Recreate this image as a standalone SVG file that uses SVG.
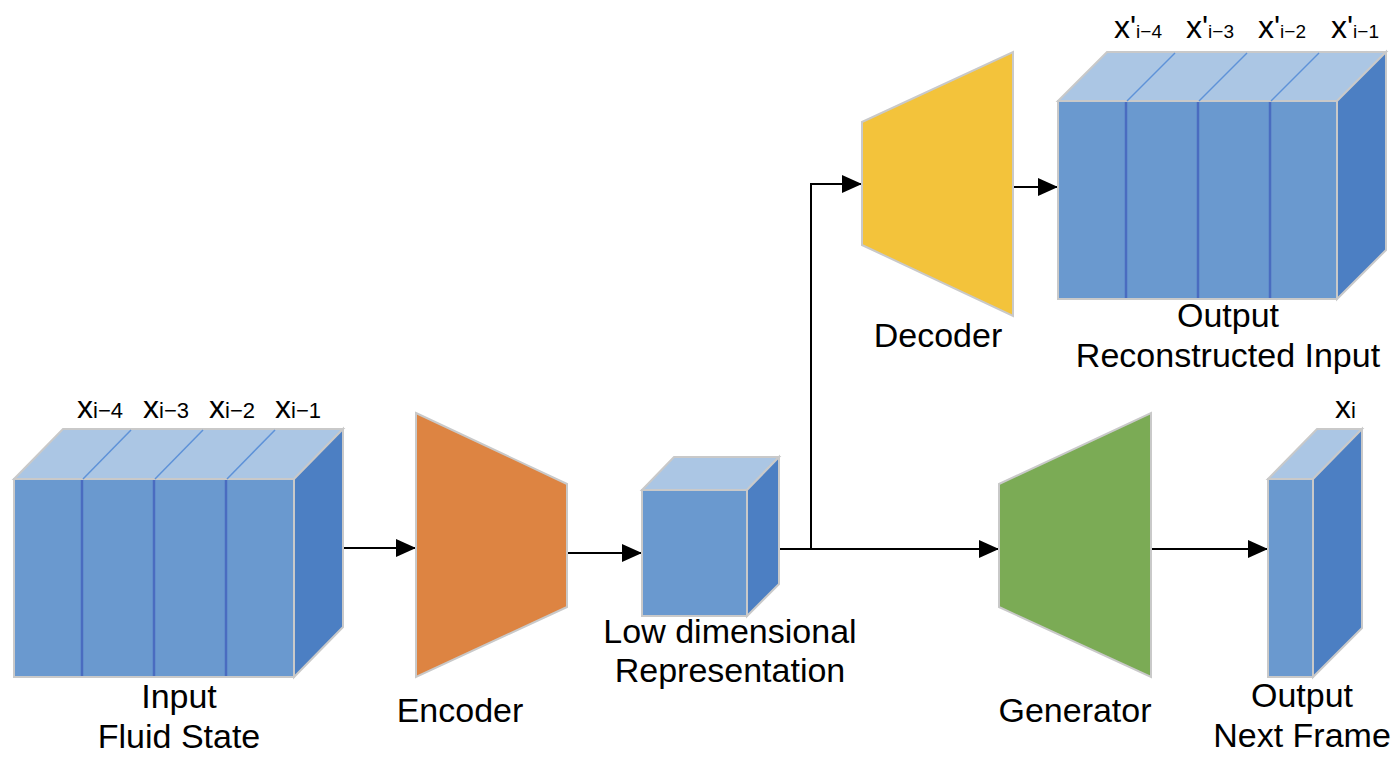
<svg xmlns="http://www.w3.org/2000/svg" width="1400" height="768" viewBox="0 0 1400 768">
<defs>
<style>
.front{fill:#6A99CF;stroke:#C9C9C9;stroke-width:2}
.top{fill:#ABC6E4;stroke:#C9C9C9;stroke-width:2}
.side{fill:#4C7FC3;stroke:#C9C9C9;stroke-width:2}
.div{stroke:#4A6CC0;stroke-width:2.5}
.tdiv{stroke:#5E92D8;stroke-width:1.5}
.trap{stroke:#C9C9C9;stroke-width:2}
.lbl{font-family:"Liberation Sans",Arial,sans-serif;font-size:34px;fill:#000;text-anchor:middle}
.xl{font-family:"Liberation Sans",Arial,sans-serif;font-size:32px;fill:#000}
.sub{font-size:22px}
.sub2{font-size:19px}
.conn{fill:none;stroke:#000;stroke-width:2}
</style>
<marker id="arr" viewBox="0 0 20 18" refX="20" refY="9" markerWidth="20" markerHeight="18" markerUnits="userSpaceOnUse" orient="auto">
<path d="M0,0 L20,9 L0,18 Z" fill="#000"/>
</marker>
</defs>
<rect width="1400" height="768" fill="#fff"/>

<g id="connectors">
<line class="conn" x1="343" y1="548" x2="416" y2="548" marker-end="url(#arr)"/>
<line class="conn" x1="567" y1="553" x2="642" y2="553" marker-end="url(#arr)"/>
<line class="conn" x1="779" y1="549" x2="999" y2="549" marker-end="url(#arr)"/>
<polyline class="conn" points="811,549 811,184 862,184" marker-end="url(#arr)"/>
<line class="conn" x1="1013" y1="187" x2="1058" y2="187" marker-end="url(#arr)"/>
<line class="conn" x1="1151" y1="549" x2="1268" y2="549" marker-end="url(#arr)"/>
</g>

<g id="input">
<polygon class="top" points="14,479 63,429 343,429 294,479"/>
<polygon class="side" points="294,479 343,429 343,627 294,677"/>
<rect class="front" x="14" y="479" width="280" height="198"/>
<line class="div" x1="82" y1="480" x2="82" y2="676"/>
<line class="div" x1="154" y1="480" x2="154" y2="676"/>
<line class="div" x1="226" y1="480" x2="226" y2="676"/>
<line class="tdiv" x1="83" y1="479" x2="131" y2="430"/>
<line class="tdiv" x1="155" y1="479" x2="203" y2="430"/>
<line class="tdiv" x1="227" y1="479" x2="275" y2="430"/>
<text class="xl" x="77" y="418">x<tspan class="sub">i−4</tspan></text>
<text class="xl" x="143" y="418">x<tspan class="sub">i−3</tspan></text>
<text class="xl" x="209" y="418">x<tspan class="sub">i−2</tspan></text>
<text class="xl" x="275" y="418">x<tspan class="sub">i−1</tspan></text>
<text class="lbl" x="179" y="708">Input</text>
<text class="lbl" x="179" y="748">Fluid State</text>
</g>

<g id="encoder">
<polygon class="trap" fill="#DD8442" points="416,413 567,484 567,607 416,677"/>
<text class="lbl" x="460" y="722">Encoder</text>
</g>

<g id="latent">
<polygon class="top" points="642,490 674,457 779,457 747,490"/>
<polygon class="side" points="747,490 779,457 779,584 747,616"/>
<rect class="front" x="642" y="490" width="105" height="126"/>
<text class="lbl" x="730" y="643">Low dimensional</text>
<text class="lbl" x="730" y="682">Representation</text>
</g>

<g id="decoder">
<polygon class="trap" fill="#F3C33B" points="862,122 1013,52 1013,316 862,245"/>
<text class="lbl" x="938" y="347">Decoder</text>
</g>

<g id="reconstructed">
<polygon class="top" points="1058,101 1107,52 1386,52 1337,101"/>
<polygon class="side" points="1337,101 1386,52 1386,250 1337,299"/>
<rect class="front" x="1058" y="101" width="279" height="198"/>
<line class="div" x1="1126" y1="102" x2="1126" y2="298"/>
<line class="div" x1="1198" y1="102" x2="1198" y2="298"/>
<line class="div" x1="1270" y1="102" x2="1270" y2="298"/>
<line class="tdiv" x1="1127" y1="101" x2="1175" y2="53"/>
<line class="tdiv" x1="1199" y1="101" x2="1247" y2="53"/>
<line class="tdiv" x1="1271" y1="101" x2="1319" y2="53"/>
<text class="xl" x="1114" y="38">x'<tspan class="sub2">i−4</tspan></text>
<text class="xl" x="1186" y="38">x'<tspan class="sub2">i−3</tspan></text>
<text class="xl" x="1258" y="38">x'<tspan class="sub2">i−2</tspan></text>
<text class="xl" x="1331" y="38">x'<tspan class="sub2">i−1</tspan></text>
<text class="lbl" x="1228" y="327">Output</text>
<text class="lbl" x="1228" y="367">Reconstructed Input</text>
</g>

<g id="generator">
<polygon class="trap" fill="#7BAB55" points="999,484 1151,413 1151,677 999,607"/>
<text class="lbl" x="1075" y="722">Generator</text>
</g>

<g id="nextframe">
<polygon class="top" points="1268,479 1317,429 1362,429 1313,479"/>
<polygon class="side" points="1313,479 1362,429 1362,628 1313,677"/>
<rect class="front" x="1268" y="479" width="45" height="198"/>
<text class="xl" x="1335" y="418">x<tspan class="sub">i</tspan></text>
<text class="lbl" x="1302" y="707">Output</text>
<text class="lbl" x="1302" y="747">Next Frame</text>
</g>
</svg>
